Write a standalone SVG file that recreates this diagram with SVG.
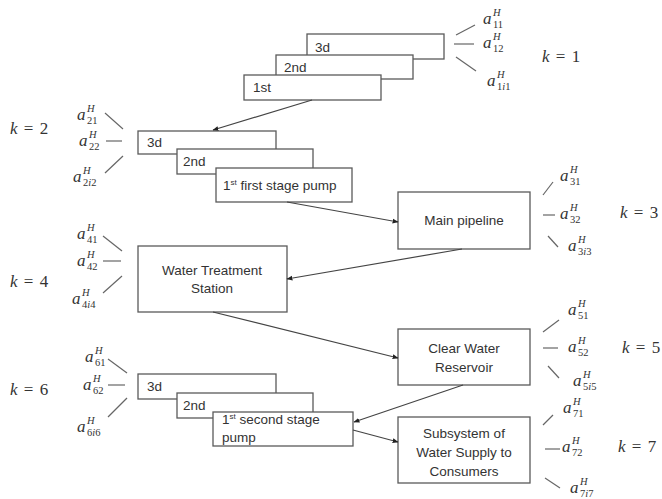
<svg xmlns="http://www.w3.org/2000/svg" width="662" height="499" viewBox="0 0 662 499">
<defs>
<style>
.box{fill:#fff;stroke:#5a5a5a;stroke-width:1.3}
.t{font-family:"Liberation Sans",Arial,sans-serif;font-size:13.5px;fill:#333}
.c{text-anchor:middle}
.m{font-family:"Liberation Serif","Times New Roman",serif;fill:#333}
.a{font-size:17px;font-style:italic}
.s{font-size:10.5px}
.i{font-style:italic}
.k{font-family:"Liberation Serif","Times New Roman",serif;font-size:17px;fill:#333;word-spacing:2px}
.tick{stroke:#666;stroke-width:1.2;fill:none}
.conn{stroke:#444;stroke-width:1.2;fill:none;marker-end:url(#ah)}
</style>
<marker id="ah" viewBox="0 0 10 10" refX="9" refY="5" markerWidth="6" markerHeight="6" orient="auto" markerUnits="userSpaceOnUse">
<path d="M0,1 L10,5 L0,9 z" fill="#222"/>
</marker>
</defs>

<g id="stage1">
<rect class="box" x="307" y="34" width="137" height="25"/>
<text class="t" x="315" y="52">3d</text>
<rect class="box" x="276" y="55" width="137" height="24"/>
<text class="t" x="284" y="72">2nd</text>
<rect class="box" x="244" y="75" width="137" height="25"/>
<text class="t" x="253" y="92">1st</text>
</g>

<g id="stage2">
<rect class="box" x="138" y="131" width="138" height="23"/>
<text class="t" x="147" y="147">3d</text>
<rect class="box" x="177" y="149" width="136" height="25"/>
<text class="t" x="183" y="166">2nd</text>
<rect class="box" x="216" y="168" width="136" height="34"/>
<text class="t" x="223" y="190">1<tspan font-size="8" dy="-5">st</tspan><tspan dy="5"> first stage pump</tspan></text>
</g>

<g id="main-pipeline">
<rect class="box" x="398" y="192" width="132" height="57"/>
<text class="t c" x="464" y="225">Main pipeline</text>
</g>

<g id="water-treatment">
<rect class="box" x="138" y="246" width="149" height="66"/>
<text class="t c" x="212" y="275">Water Treatment</text>
<text class="t c" x="212" y="293">Station</text>
</g>

<g id="clear-water">
<rect class="box" x="398" y="329" width="132" height="56"/>
<text class="t c" x="464" y="353">Clear Water</text>
<text class="t c" x="464" y="372">Reservoir</text>
</g>

<g id="stage6">
<rect class="box" x="138" y="374" width="138" height="25"/>
<text class="t" x="147" y="391">3d</text>
<rect class="box" x="177" y="393" width="136" height="25"/>
<text class="t" x="183" y="410">2nd</text>
<rect class="box" x="213" y="412" width="140" height="34"/>
<text class="t" x="222" y="424">1<tspan font-size="8" dy="-5">st</tspan><tspan dy="5"> second stage</tspan></text>
<text class="t" x="222" y="442">pump</text>
</g>

<g id="subsystem">
<rect class="box" x="398" y="417" width="132" height="66"/>
<text class="t c" x="464" y="438">Subsystem of</text>
<text class="t c" x="464" y="457">Water Supply to</text>
<text class="t c" x="464" y="476">Consumers</text>
</g>

<g id="connectors">
<line class="conn" x1="312" y1="100" x2="213" y2="130"/>
<line class="conn" x1="287" y1="202" x2="398" y2="222"/>
<line class="conn" x1="462" y1="249" x2="287" y2="279"/>
<line class="conn" x1="213" y1="312" x2="398" y2="358"/>
<line class="conn" x1="463" y1="385" x2="354" y2="422"/>
<line class="conn" x1="353" y1="430" x2="398" y2="442"/>
</g>

<g id="ticks">
<line class="tick" x1="456" y1="35" x2="475" y2="25"/>
<line class="tick" x1="454" y1="44" x2="474" y2="44"/>
<line class="tick" x1="456" y1="57" x2="476" y2="71"/>
<line class="tick" x1="105" y1="113" x2="123" y2="129"/>
<line class="tick" x1="106" y1="141" x2="122" y2="141"/>
<line class="tick" x1="105" y1="173" x2="123" y2="156"/>
<line class="tick" x1="543" y1="195" x2="553" y2="182"/>
<line class="tick" x1="543" y1="215" x2="555" y2="215"/>
<line class="tick" x1="548" y1="236" x2="558" y2="247"/>
<line class="tick" x1="103" y1="236" x2="122" y2="251"/>
<line class="tick" x1="103" y1="261" x2="121" y2="261"/>
<line class="tick" x1="103" y1="293" x2="122" y2="276"/>
<line class="tick" x1="543" y1="332" x2="559" y2="320"/>
<line class="tick" x1="543" y1="348" x2="558" y2="348"/>
<line class="tick" x1="548" y1="366" x2="559" y2="378"/>
<line class="tick" x1="108" y1="359" x2="127" y2="373"/>
<line class="tick" x1="108" y1="385" x2="125" y2="385"/>
<line class="tick" x1="108" y1="417" x2="127" y2="398"/>
<line class="tick" x1="543" y1="425" x2="553" y2="415"/>
<line class="tick" x1="545" y1="449" x2="560" y2="449"/>
<line class="tick" x1="545" y1="478" x2="560" y2="488"/>
</g>

<g id="labels">
<text class="m" x="483" y="24"><tspan class="a">a</tspan><tspan class="s i" x="493" y="16">H</tspan><tspan class="s" x="493" y="28">11</tspan></text>
<text class="m" x="483" y="48"><tspan class="a">a</tspan><tspan class="s i" x="493" y="40">H</tspan><tspan class="s" x="493" y="52">12</tspan></text>
<text class="m" x="487" y="86"><tspan class="a">a</tspan><tspan class="s i" x="497" y="78">H</tspan><tspan class="s" x="497" y="90">1<tspan class="i">i</tspan>1</tspan></text>
<text class="k" x="542" y="62"><tspan font-style="italic">k</tspan> = 1</text>

<text class="m" x="77" y="120"><tspan class="a">a</tspan><tspan class="s i" x="87" y="112">H</tspan><tspan class="s" x="87" y="124">21</tspan></text>
<text class="m" x="79" y="146"><tspan class="a">a</tspan><tspan class="s i" x="89" y="138">H</tspan><tspan class="s" x="89" y="150">22</tspan></text>
<text class="m" x="73" y="182"><tspan class="a">a</tspan><tspan class="s i" x="83" y="174">H</tspan><tspan class="s" x="83" y="186">2<tspan class="i">i</tspan>2</tspan></text>
<text class="k" x="10" y="134"><tspan font-style="italic">k</tspan> = 2</text>

<text class="m" x="560" y="181"><tspan class="a">a</tspan><tspan class="s i" x="570" y="173">H</tspan><tspan class="s" x="570" y="185">31</tspan></text>
<text class="m" x="560" y="219"><tspan class="a">a</tspan><tspan class="s i" x="570" y="211">H</tspan><tspan class="s" x="570" y="223">32</tspan></text>
<text class="m" x="568" y="251"><tspan class="a">a</tspan><tspan class="s i" x="578" y="243">H</tspan><tspan class="s" x="578" y="255">3<tspan class="i">i</tspan>3</tspan></text>
<text class="k" x="620" y="218"><tspan font-style="italic">k</tspan> = 3</text>

<text class="m" x="77" y="239"><tspan class="a">a</tspan><tspan class="s i" x="87" y="231">H</tspan><tspan class="s" x="87" y="243">41</tspan></text>
<text class="m" x="77" y="266"><tspan class="a">a</tspan><tspan class="s i" x="87" y="258">H</tspan><tspan class="s" x="87" y="270">42</tspan></text>
<text class="m" x="72" y="304"><tspan class="a">a</tspan><tspan class="s i" x="82" y="296">H</tspan><tspan class="s" x="82" y="308">4<tspan class="i">i</tspan>4</tspan></text>
<text class="k" x="10" y="287"><tspan font-style="italic">k</tspan> = 4</text>

<text class="m" x="568" y="315"><tspan class="a">a</tspan><tspan class="s i" x="578" y="307">H</tspan><tspan class="s" x="578" y="319">51</tspan></text>
<text class="m" x="568" y="352"><tspan class="a">a</tspan><tspan class="s i" x="578" y="344">H</tspan><tspan class="s" x="578" y="356">52</tspan></text>
<text class="m" x="573" y="386"><tspan class="a">a</tspan><tspan class="s i" x="583" y="378">H</tspan><tspan class="s" x="583" y="390">5<tspan class="i">i</tspan>5</tspan></text>
<text class="k" x="622" y="353"><tspan font-style="italic">k</tspan> = 5</text>

<text class="m" x="85" y="362"><tspan class="a">a</tspan><tspan class="s i" x="95" y="354">H</tspan><tspan class="s" x="95" y="366">61</tspan></text>
<text class="m" x="83" y="390"><tspan class="a">a</tspan><tspan class="s i" x="93" y="382">H</tspan><tspan class="s" x="93" y="394">62</tspan></text>
<text class="m" x="77" y="432"><tspan class="a">a</tspan><tspan class="s i" x="87" y="424">H</tspan><tspan class="s" x="87" y="436">6<tspan class="i">i</tspan>6</tspan></text>
<text class="k" x="10" y="395"><tspan font-style="italic">k</tspan> = 6</text>

<text class="m" x="563" y="413"><tspan class="a">a</tspan><tspan class="s i" x="573" y="405">H</tspan><tspan class="s" x="573" y="417">71</tspan></text>
<text class="m" x="562" y="452"><tspan class="a">a</tspan><tspan class="s i" x="572" y="444">H</tspan><tspan class="s" x="572" y="456">72</tspan></text>
<text class="m" x="570" y="493"><tspan class="a">a</tspan><tspan class="s i" x="580" y="485">H</tspan><tspan class="s" x="580" y="497">7<tspan class="i">i</tspan>7</tspan></text>
<text class="k" x="618" y="452"><tspan font-style="italic">k</tspan> = 7</text>
</g>
</svg>
